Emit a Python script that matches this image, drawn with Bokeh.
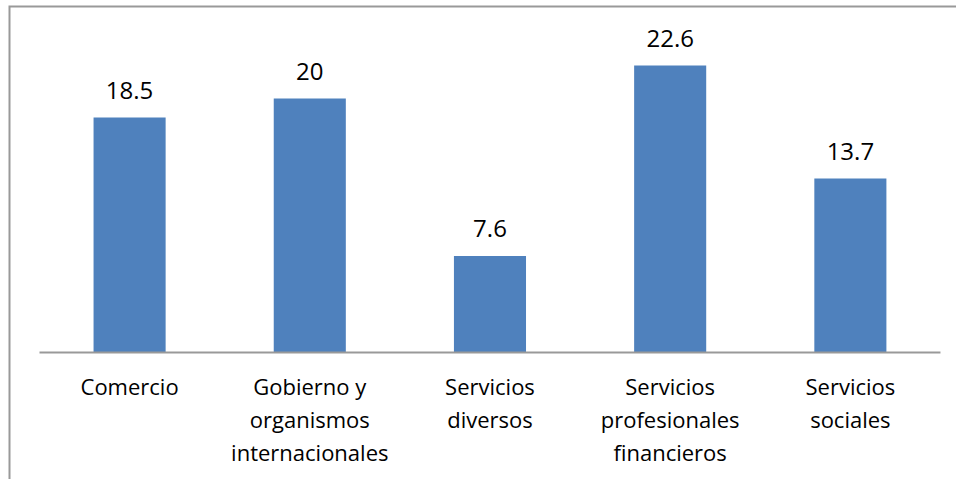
from bokeh.plotting import figure
from bokeh.models import ColumnDataSource, Range1d
from bokeh.core.properties import value
from bokeh.embed import file_html
from bokeh.resources import INLINE

categories = ["Comercio", "Gobierno y\norganismos\ninternacionales", "Servicios\ndiversos",
              "Servicios\nprofesionales\nfinancieros", "Servicios\nsociales"]
values = [18.5, 20, 7.6, 22.6, 13.7]
labels = ["18.5", "20", "7.6", "22.6", "13.7"]

xs = list(range(len(categories)))
src = ColumnDataSource(dict(x=xs, val=values, lab=labels, cat=categories, base=[0] * len(xs)))

W, H = 956, 479
x_start, x_end = -0.672, 4.589
y_start, y_end = -10.0, 27.32

p = figure(x_range=Range1d(x_start, x_end), y_range=Range1d(y_start, y_end),
           width=W, height=H, output_backend="svg", toolbar_location=None,
           min_border_left=8, min_border_right=0, min_border_top=5, min_border_bottom=0)
p.xaxis.visible = False
p.yaxis.visible = False
p.xgrid.visible = False
p.ygrid.visible = False
p.outline_line_color = None

# chart-area frame: only its top and left edges are visible in the cropped original
p.line(x=[x_start, x_start, x_end], y=[y_start, y_end, y_end], line_color="#999999", line_width=4)

p.vbar(x="x", top="val", width=0.4, source=src, fill_color="#4F81BD", line_color=None)
# category-axis baseline
p.line(x=[xs[0] - 0.5, xs[-1] + 0.5], y=[0, 0], line_color="#999999", line_width=2)

# value labels
p.text(x="x", y="val", text="lab", source=src, text_align="center", text_baseline="alphabetic",
       y_offset=-27, text_font=value("Open Sans"), text_font_size="24px", text_color="black")

# category labels
p.text(x="x", y="base", text="cat", source=src, text_align="center", text_baseline="top",
       y_offset=19, text_font=value("Open Sans"), text_font_size="22px", text_color="black",
       text_line_height=1.1)

open("out.html", "w").write(file_html(p, INLINE))
